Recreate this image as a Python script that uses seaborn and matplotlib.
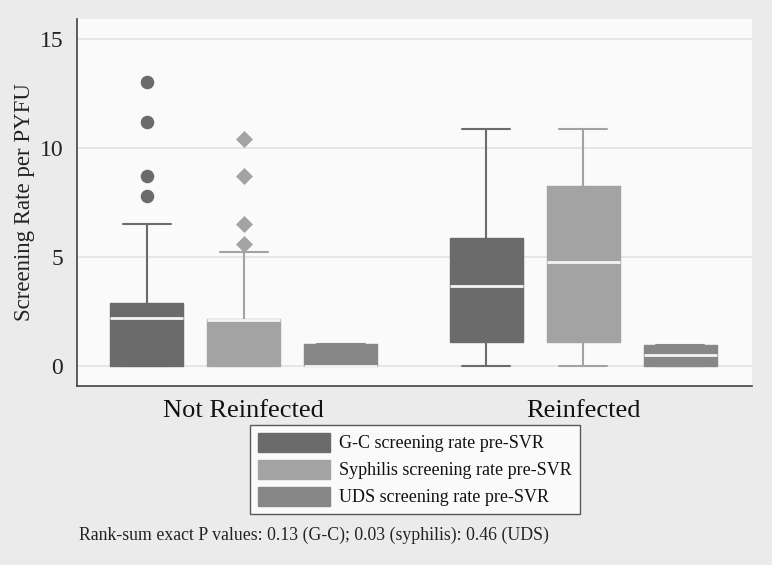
import numpy as np
import pandas as pd
import matplotlib
matplotlib.use("Agg")
import matplotlib.pyplot as plt
from matplotlib.patches import Patch
import seaborn as sns

# Groups and series
groups = ["Not Reinfected", "Reinfected"]
series = ["G-C screening rate pre-SVR",
          "Syphilis screening rate pre-SVR",
          "UDS screening rate pre-SVR"]

# Box summaries (rows = groups, cols = series)
q1 = [[0.0, 0.0, 0.0], [1.09, 1.09, 0.0]]
med = [[2.2, 2.12, 0.0], [3.68, 4.76, 0.49]]
q3 = [[2.9, 2.15, 1.0], [5.86, 8.23, 0.98]]
whislo = [[0.0, 0.0, 0.0], [0.0, 0.0, 0.0]]
whishi = [[6.5, 5.2, 1.0], [10.86, 10.86, 0.98]]

# Outside values (only in the Not Reinfected group)
out_gc = [7.8, 8.7, 11.2, 13.0]
out_syph = [5.6, 6.5, 8.7, 10.4]

colors = ["#6b6b6b", "#a3a3a3", "#878787"]

sns.set_theme(style="white")
plt.rcParams["font.family"] = ["Liberation Serif", "DejaVu Serif"]

fig = plt.figure(figsize=(7.72, 5.65), dpi=100, facecolor="#ebebeb")
ax = fig.add_axes([0.0997, 0.3168, 0.8743, 0.6496])
ax.set_facecolor("#fafafa")

positions = {}
for g in range(len(groups)):
    for i in range(len(series)):
        pos = g * 3.5 + i
        positions[(g, i)] = pos
        stat = dict(q1=q1[g][i], med=med[g][i], q3=q3[g][i],
                    whislo=whislo[g][i], whishi=whishi[g][i], fliers=[])
        c = colors[i]
        ax.bxp([stat], positions=[pos], widths=0.75, capwidths=0.5,
               patch_artist=True, showfliers=False,
               boxprops=dict(facecolor=c, edgecolor=c, linewidth=1),
               whiskerprops=dict(color=c, linewidth=1.5),
               capprops=dict(color=c, linewidth=1.5),
               medianprops=dict(color="#f4f4f4", linewidth=2))

# Outside values drawn with seaborn
df_gc = pd.DataFrame({"x": positions[(0, 0)], "y": out_gc})
df_sy = pd.DataFrame({"x": positions[(0, 1)], "y": out_syph})
sns.scatterplot(data=df_gc, x="x", y="y", ax=ax, color=colors[0],
                marker="o", s=95, linewidth=0, zorder=4)
sns.scatterplot(data=df_sy, x="x", y="y", ax=ax, color=colors[1],
                marker="D", s=75, linewidth=0, zorder=4)

ax.set_xlim(-0.72, 6.24)
ax.set_ylim(-0.92, 15.9)
ax.set_yticks([0, 5, 10, 15])
ax.set_yticklabels(["0", "5", "10", "15"], fontsize=17, color="#222222")
ax.set_xticks([1, 4.5])
ax.set_xticklabels(groups, fontsize=19, color="#111111")
ax.tick_params(axis="y", direction="out", length=7, width=1, color="#444444", pad=3)
ax.tick_params(axis="x", length=0, pad=10)
ax.set_xlabel("")
ax.set_ylabel("Screening Rate per PYFU", fontsize=16.5, color="#222222", labelpad=3)
ax.yaxis.grid(True, color="#e3e3e3", linewidth=1.2)
ax.set_axisbelow(True)
for s in ["top", "right"]:
    ax.spines[s].set_visible(False)
for s in ["left", "bottom"]:
    ax.spines[s].set_color("#444444")
    ax.spines[s].set_linewidth(1.2)

handles = [Patch(facecolor=c, edgecolor=c) for c in colors]
leg = fig.legend(handles, series, loc="center", bbox_to_anchor=(0.5375, 0.169),
                 fontsize=13, frameon=True, fancybox=False, edgecolor="#333333",
                 facecolor="white", handlelength=4.0, handleheight=1.25,
                 labelspacing=0.4, borderpad=0.45, handletextpad=0.5)
leg.get_frame().set_linewidth(1.0)
for t in leg.get_texts():
    t.set_color("#111111")

fig.text(79 / 772, 1 - 535 / 565, "Rank-sum exact P values: 0.13 (G-C); 0.03 (syphilis): 0.46 (UDS)",
         fontsize=12.8, color="#222222", va="center", ha="left")

fig.savefig("out.png", dpi=100, facecolor=fig.get_facecolor())
